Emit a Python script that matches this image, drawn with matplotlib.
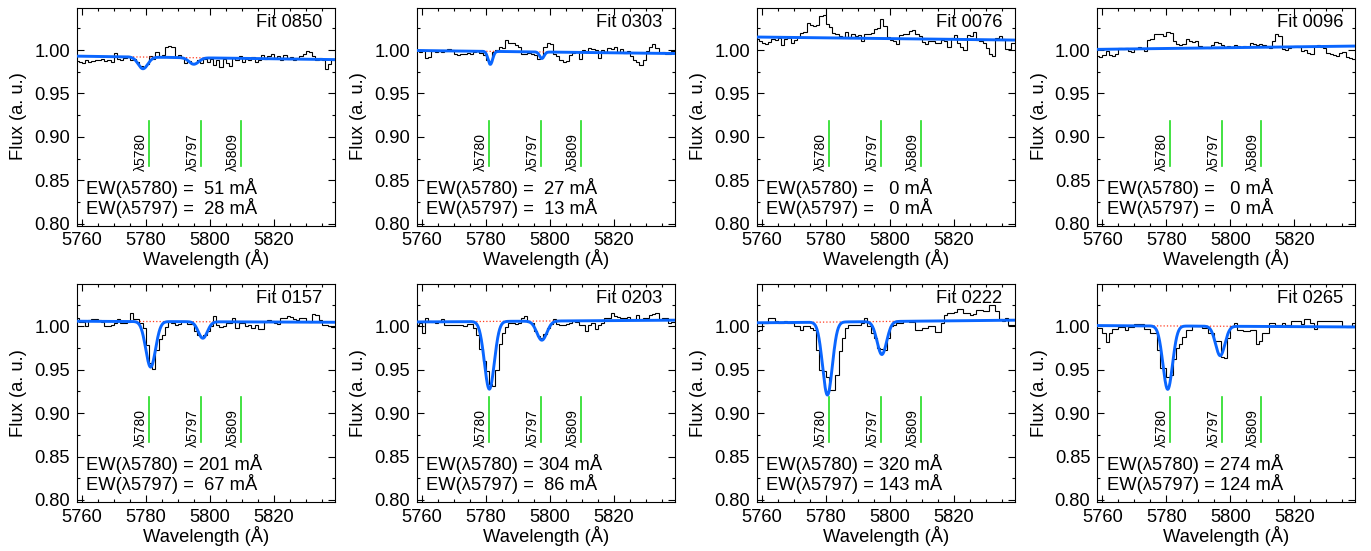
import numpy as np
import matplotlib
matplotlib.use("Agg")
import matplotlib.pyplot as plt
from matplotlib.ticker import MultipleLocator, FormatStrFormatter

plt.rcParams["font.family"] = ["Liberation Sans", "DejaVu Sans"]

# bin edges of the observed spectra (1 A bins)
edges = np.arange(5758.0, 5839.5, 1.0)

fit_ids = ["0850", "0303", "0076", "0096", "0157", "0203", "0222", "0265"]
ew_5780 = [51, 27, 0, 0, 201, 304, 320, 274]
ew_5797 = [28, 13, 0, 0, 67, 86, 143, 124]

# observed flux, in units of 1e-3
flux_0850 = [987, 986, 985, 988, 986, 987, 989, 988, 990, 987, 989, 986, 997, 990, 988, 991,
             993, 988, 990, 986, 982, 981, 984, 993, 990, 998, 992, 994, 1004, 1005, 1004, 992,
             994, 991, 985, 987, 984, 985, 988, 985, 990, 986, 990, 983, 988, 981, 990, 985,
             982, 991, 988, 993, 986, 990, 988, 992, 986, 989, 994, 990, 993, 995, 991, 993,
             989, 994, 990, 992, 988, 991, 993, 996, 999, 998, 993, 989, 991, 989, 978, 984, 988]
flux_0303 = [999, 998, 999, 991, 992, 999, 998, 999, 998, 999, 1001, 1000, 995, 994, 996, 995,
             997, 996, 998, 999, 997, 994, 989, 986, 998, 1000, 1004, 1002, 1012, 1008, 1008, 1006,
             1004, 996, 995, 997, 995, 994, 990, 991, 1004, 1008, 1007, 996, 993, 989, 986, 987,
             994, 997, 998, 990, 1000, 999, 1002, 1001, 1000, 991, 1000, 998, 1002, 1001, 1003, 998,
             1001, 997, 999, 993, 989, 986, 983, 988, 999, 1004, 1007, 1002, 997, 998, 996, 996, 999]
flux_0076 = [1013, 1010, 1008, 1007, 1009, 1013, 1012, 1014, 1006, 1013, 1014, 1008, 1012, 1015,
             1020, 1021, 1031, 1029, 1028, 1029, 1039, 1040, 1030, 1027, 1020, 1019, 1016, 1015,
             1021, 1014, 1019, 1016, 1017, 1010, 1019, 1019, 1020, 1024, 1025, 1036, 1028, 1015,
             1012, 1010, 1007, 1017, 1018, 1019, 1022, 1023, 1018, 1016, 1009, 1007, 1010, 1011,
             1008, 1008, 1012, 1011, 1004, 1014, 1017, 1008, 1004, 1000, 1017, 1016, 1021, 1012,
             1010, 1008, 1002, 995, 993, 1014, 1016, 1013, 1001, 1001, 1008]
flux_0096 = [993, 992, 994, 999, 994, 993, 995, 1002, 1001, 1002, 999, 998, 1001, 1003, 1002, 999,
             1012, 1013, 1019, 1018, 1019, 1016, 1021, 1020, 1010, 1007, 1006, 1007, 1013, 1010,
             1009, 1010, 1005, 1004, 1003, 1002, 1006, 1009, 1008, 1006, 1004, 1005, 1004, 1006,
             1005, 1003, 1005, 1004, 1008, 1007, 1006, 1007, 1006, 1003, 1002, 1010, 1018, 1016,
             1001, 1000, 1002, 1004, 1005, 1004, 999, 1000, 997, 996, 1005, 1006, 1004, 1002, 997,
             996, 994, 993, 997, 998, 992, 991, 990]
flux_0157 = [1010, 1005, 1005, 1000, 1007, 1008, 1008, 1007, 1005, 1000, 1000, 1001, 1004, 1008,
             1004, 1004, 1005, 1015, 1008, 1008, 1004, 998, 978, 958, 951, 973, 985, 990, 999, 1005,
             1004, 1002, 1003, 1006, 1006, 1003, 1003, 994, 990, 988, 990, 994, 1000, 1012, 1002,
             999, 1000, 1004, 1004, 1010, 998, 1004, 1004, 1000, 1002, 998, 1002, 997, 997, 1005,
             1007, 1006, 1004, 1003, 1010, 1009, 1012, 1011, 1008, 1007, 1010, 1009, 1006, 1005,
             1014, 1013, 1007, 1002, 1001, 1000, 999]
flux_0203 = [1002, 1004, 992, 1010, 1006, 1005, 1004, 1006, 1008, 1002, 1002, 1002, 1001, 1001,
             1001, 1000, 1003, 1003, 998, 990, 974, 960, 948, 934, 931, 950, 980, 992, 999, 1004,
             1004, 1003, 1004, 1010, 1012, 1005, 1004, 994, 989, 986, 991, 998, 1003, 1008, 1003,
             1002, 1002, 1003, 1004, 1006, 1005, 1002, 1002, 994, 1002, 1004, 997, 1002, 1004, 1009,
             1010, 1015, 1012, 1011, 1010, 1010, 1011, 1008, 1008, 1013, 1008, 1009, 1010, 1013,
             1014, 1015, 1008, 1010, 1009, 1004, 1005]
flux_0222 = [994, 996, 1004, 1004, 1010, 1009, 1006, 1004, 1004, 1006, 1004, 1004, 1000, 1000, 996,
             1000, 1000, 998, 996, 973, 950, 948, 942, 927, 927, 944, 971, 987, 998, 1002, 1002,
             1002, 1002, 1004, 1010, 1000, 992, 987, 975, 974, 973, 987, 1000, 1002, 1004, 1004,
             1006, 1006, 1005, 1005, 996, 996, 998, 998, 1000, 1000, 993, 993, 1004, 1013, 1015,
             1015, 1016, 1020, 1020, 1015, 1015, 1013, 1014, 1019, 1019, 1017, 1017, 1024, 1025,
             1017, 1008, 1006, 1010, 1002, 1002]
flux_0265 = [998, 998, 992, 982, 992, 997, 997, 999, 999, 996, 999, 999, 1003, 1003, 1003, 997,
             997, 992, 992, 973, 952, 952, 942, 944, 962, 975, 980, 988, 996, 996, 1000, 1000,
             1000, 998, 998, 992, 992, 983, 983, 965, 963, 986, 1000, 1004, 996, 996, 994, 994,
             996, 996, 979, 983, 992, 992, 1004, 1004, 1002, 1002, 1004, 1002, 1002, 1006, 1006,
             1006, 1003, 1008, 1008, 1004, 997, 1006, 1006, 1006, 1006, 1006, 1006, 1006, 1006,
             1000, 999, 999, 1004]
fluxes = [flux_0850, flux_0303, flux_0076, flux_0096, flux_0157, flux_0203, flux_0222, flux_0265]

# fitted model: linear continuum (left, right) and two gaussian DIBs (centre, depth, sigma)
cont_left = [0.993, 0.9995, 1.015, 1.0008, 1.0058, 1.005, 1.004, 1.0008]
cont_right = [0.989, 0.996, 1.0115, 1.0046, 1.0046, 1.007, 1.007, 0.9992]
dib1 = [(5779.1, 0.0135, 1.5), (5781.4, 0.015, 0.72), (5780.0, 0.0, 1.0), (5780.0, 0.0, 1.0),
        (5781.5, 0.0525, 1.53), (5781.1, 0.078, 1.55), (5780.5, 0.084, 1.52), (5780.4, 0.073, 1.5)]
dib2 = [(5795.0, 0.0075, 1.5), (5797.5, 0.0075, 0.7), (5797.0, 0.0, 1.0), (5797.0, 0.0, 1.0),
        (5797.8, 0.019, 1.41), (5797.5, 0.022, 1.56), (5797.5, 0.038, 1.5), (5796.8, 0.034, 1.45)]

dib_waves = [5781.0, 5797.3, 5809.6]
dib_labels = ["λ5780", "λ5797", "λ5809"]

XLIM = (5758.4, 5839.0)
YLIM = (0.798, 1.049)
BLUE = "#0a66ff"
FS = 13.2
W, H = 1371, 551

fig = plt.figure(figsize=(W / 100, H / 100), dpi=100)
lefts = [76.7, 416.7, 756.7, 1097.3]
bottoms = [325.5, 49.3]
aw, ah = 258.0, 218.0

lam = np.linspace(XLIM[0], XLIM[1], 800)

for k, fid in enumerate(fit_ids):
    row, col = divmod(k, 4)
    ax = fig.add_axes([lefts[col] / W, bottoms[row] / H, aw / W, ah / H])

    flux = np.array(fluxes[k]) / 1000.0
    cont = np.interp(lam, XLIM, [cont_left[k], cont_right[k]])
    model = cont.copy()
    for c, d, s in (dib1[k], dib2[k]):
        model -= d * np.exp(-0.5 * ((lam - c) / s) ** 2)

    ax.stairs(flux, edges, baseline=None, color="black", lw=0.8, zorder=2)
    ax.plot(lam, cont, ls=":", color="#ff3b1f", lw=0.9, zorder=3)
    ax.plot(lam, model, color=BLUE, lw=2.1, zorder=4)

    for wv, lab in zip(dib_waves, dib_labels):
        ax.plot([wv, wv], [0.867, 0.918], color="#22dd22", lw=1.2, zorder=3)
        ax.text(wv - 0.3, 0.861, lab, rotation=90, ha="right", va="bottom", fontsize=10)

    ax.text(5835.2, 1.0316, f"Fit {fid}", ha="right", va="center", fontsize=FS)
    ax.text(5761.3, 0.841, f"EW(λ5780) = {ew_5780[k]:3d} mÅ", ha="left", va="center", fontsize=FS)
    ax.text(5761.3, 0.818, f"EW(λ5797) = {ew_5797[k]:3d} mÅ", ha="left", va="center", fontsize=FS)

    ax.set_xlim(*XLIM)
    ax.set_ylim(*YLIM)
    ax.xaxis.set_major_locator(MultipleLocator(20))
    ax.xaxis.set_minor_locator(MultipleLocator(5))
    ax.yaxis.set_major_locator(MultipleLocator(0.05))
    ax.yaxis.set_minor_locator(MultipleLocator(0.025))
    ax.yaxis.set_major_formatter(FormatStrFormatter("%.2f"))
    ax.tick_params(which="both", direction="in", top=True, right=True, labelsize=FS, width=0.8)
    ax.tick_params(which="major", length=5, pad=5)
    ax.tick_params(which="minor", length=2.5)
    for sp in ax.spines.values():
        sp.set_linewidth(0.8)
    ax.set_xlabel("Wavelength (Å)", fontsize=FS, labelpad=0)
    ax.set_ylabel("Flux (a. u.)", fontsize=FS, labelpad=5)

fig.savefig("out.png", dpi=100)
